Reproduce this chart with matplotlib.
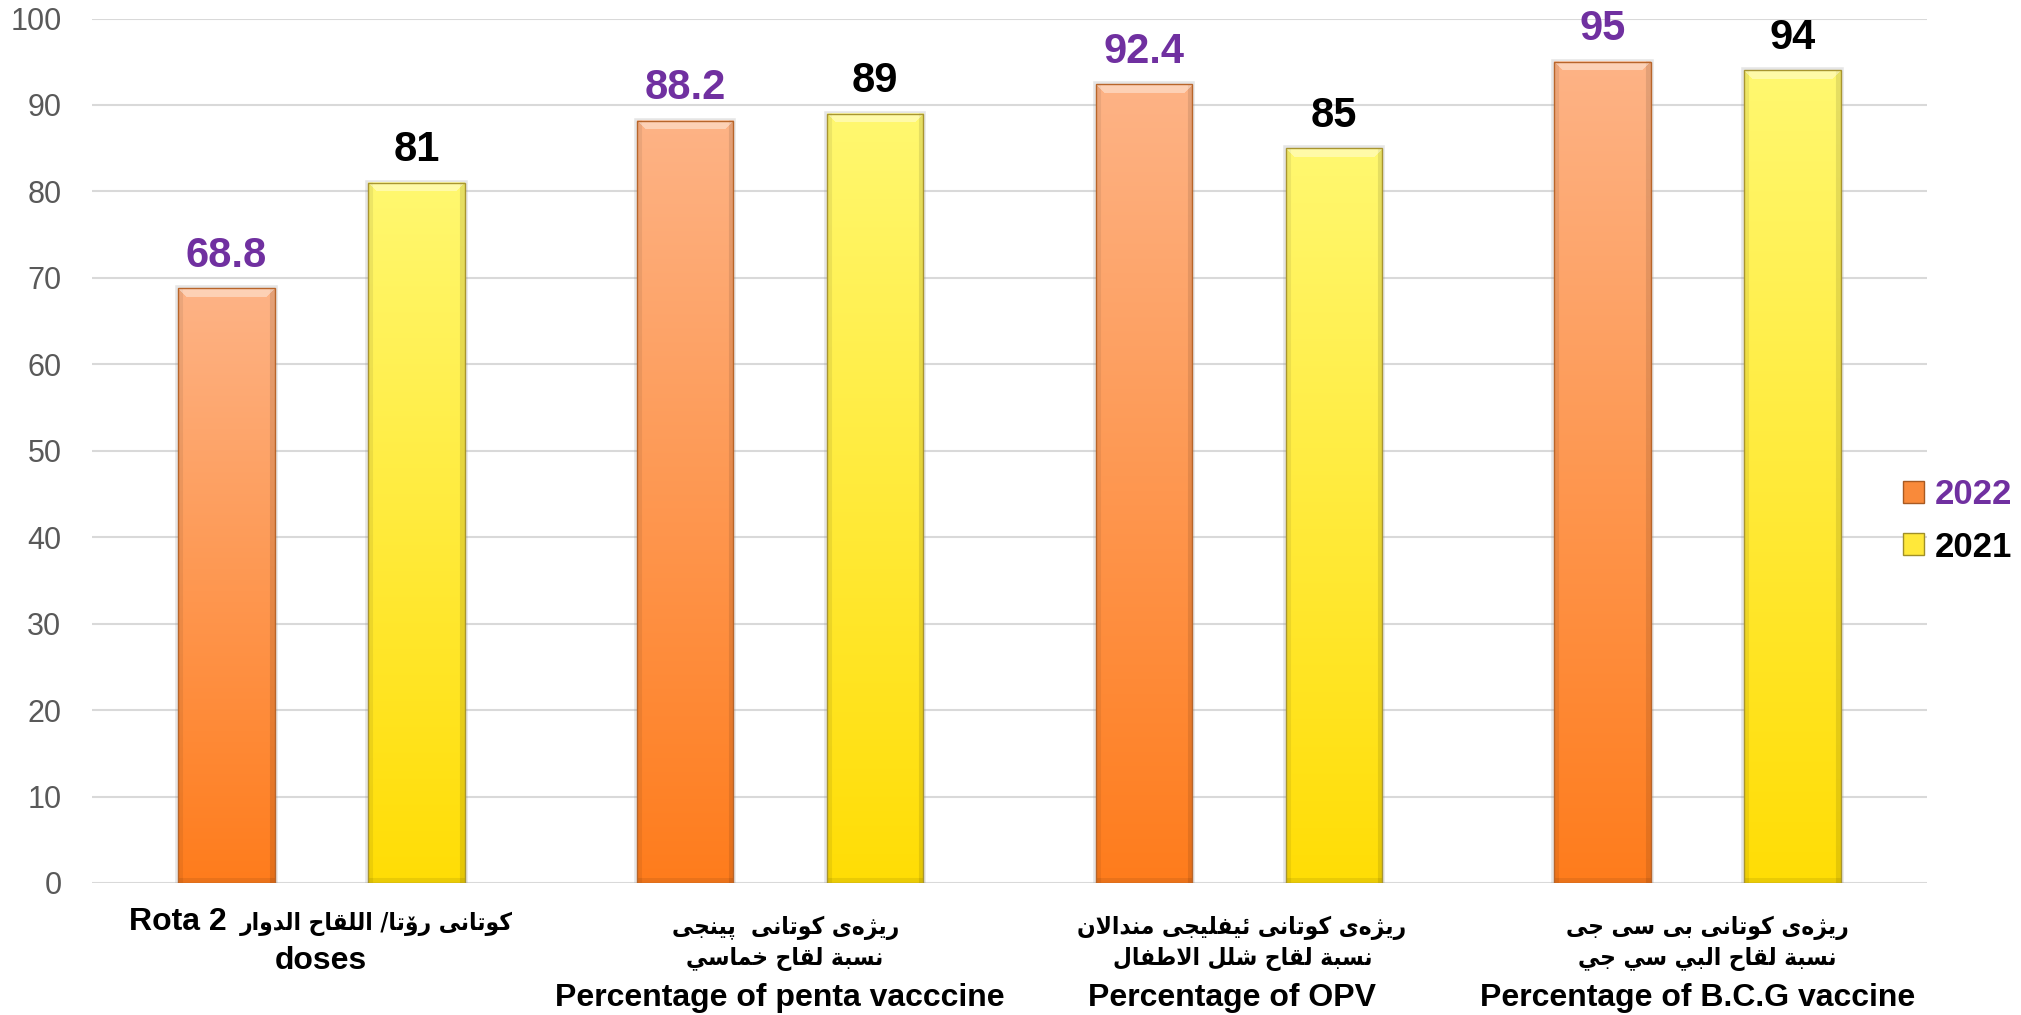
import numpy as np
import matplotlib
matplotlib.use("Agg")
import matplotlib.pyplot as plt
from matplotlib.patches import Patch, Rectangle
from matplotlib.colors import to_rgb

# ---------------- data ----------------
series_names = ["2022", "2021"]
values_2022 = [68.8, 88.2, 92.4, 95]
values_2021 = [81, 89, 85, 94]
yticks = list(range(0, 101, 10))

# category labels (arabic / kurdish lines in logical order, english lines)
cat_lines = [
    [("mix", "كوتانى رۆتا/ اللقاح الدوار", "Rota 2"), ("en", "doses")],
    [("ar", "رێژەى كوتانى  پێنجى"), ("ar", "نسبة لقاح خماسي"), ("en", "Percentage of penta vacccine")],
    [("ar", "رێژەى كوتانى ئيفليجى منداڵان"), ("ar", "نسبة لقاح شلل الاطفال"), ("en", "Percentage of OPV")],
    [("ar", "رێژەى كوتانى بى سى جى"), ("ar", "نسبة لقاح البي سي جي"), ("en", "Percentage of B.C.G vaccine")],
]

# ---------------- minimal Arabic shaping (visual order) ----------------
FORMS = {
    "\u0627": ("\uFE8D", "\uFE8E", None, None),
    "\u0628": ("\uFE8F", "\uFE90", "\uFE91", "\uFE92"),
    "\u0629": ("\uFE93", "\uFE94", None, None),
    "\u062A": ("\uFE95", "\uFE96", "\uFE97", "\uFE98"),
    "\u062C": ("\uFE9D", "\uFE9E", "\uFE9F", "\uFEA0"),
    "\u062D": ("\uFEA1", "\uFEA2", "\uFEA3", "\uFEA4"),
    "\u062E": ("\uFEA5", "\uFEA6", "\uFEA7", "\uFEA8"),
    "\u062F": ("\uFEA9", "\uFEAA", None, None),
    "\u0631": ("\uFEAD", "\uFEAE", None, None),
    "\u0633": ("\uFEB1", "\uFEB2", "\uFEB3", "\uFEB4"),
    "\u0634": ("\uFEB5", "\uFEB6", "\uFEB7", "\uFEB8"),
    "\u0637": ("\uFEC1", "\uFEC2", "\uFEC3", "\uFEC4"),
    "\u0641": ("\uFED1", "\uFED2", "\uFED3", "\uFED4"),
    "\u0642": ("\uFED5", "\uFED6", "\uFED7", "\uFED8"),
    "\u0643": ("\uFED9", "\uFEDA", "\uFEDB", "\uFEDC"),
    "\u0644": ("\uFEDD", "\uFEDE", "\uFEDF", "\uFEE0"),
    "\u0645": ("\uFEE1", "\uFEE2", "\uFEE3", "\uFEE4"),
    "\u0646": ("\uFEE5", "\uFEE6", "\uFEE7", "\uFEE8"),
    "\u0648": ("\uFEED", "\uFEEE", None, None),
    "\u0649": ("\uFEEF", "\uFEF0", None, None),
    "\u064A": ("\uFEF1", "\uFEF2", "\uFEF3", "\uFEF4"),
    "\u0626": ("\uFE89", "\uFE8A", "\uFE8B", "\uFE8C"),
    "\u067E": ("\uFB56", "\uFB57", "\uFB58", "\uFB59"),
    "\u0698": ("\uFB8A", "\uFB8B", None, None),
    "\u06C6": ("\uFBD9", "\uFBDA", None, None),
    "\u06D5": ("\uFEE9", "\uFEEA", None, None),
    "\u06CE": ("\uFEEF", "\uFEF0", "\uFEF3", "\uFEF4"),
    "\u06B5": ("\uFEDD", "\uFEDE", "\uFEDF", "\uFEE0"),
}
LAMS = ("\u0644", "\u06B5")


def joins_left(ch):
    return ch in FORMS and FORMS[ch][2] is not None


def shape_visual(s):
    out = []
    i, n = 0, len(s)
    while i < n:
        ch = s[i]
        if ch not in FORMS:
            out.append(ch)
            i += 1
            continue
        prev_j = i > 0 and joins_left(s[i - 1])
        if ch in LAMS and i + 1 < n and s[i + 1] == "\u0627":
            out.append("\uFEFC" if prev_j else "\uFEFB")
            i += 2
            continue
        next_j = joins_left(ch) and i + 1 < n and s[i + 1] in FORMS
        iso, fin, ini, med = FORMS[ch]
        if prev_j and next_j:
            g = med
        elif prev_j:
            g = fin
        elif next_j:
            g = ini
        else:
            g = iso
        out.append(g)
        i += 1
    return "".join(reversed(out))


# ---------------- figure ----------------
W_PX, H_PX = 2021, 1015
fig = plt.figure(figsize=(W_PX / 100, H_PX / 100), dpi=100)
ax_left, ax_right, ax_top, ax_bottom = 92, 1927, 18.5, 883
ax = fig.add_axes([ax_left / W_PX, 1 - ax_bottom / H_PX,
                   (ax_right - ax_left) / W_PX, (ax_bottom - ax_top) / H_PX])
ax.set_xlim(-0.5, 3.5)
ax.set_ylim(0, 100)
ax.set_yticks(yticks)
ax.yaxis.grid(True, color="#D9D9D9", lw=1.5)
ax.set_axisbelow(True)
for sp in ax.spines.values():
    sp.set_visible(False)
ax.set_xticks([])
ax.tick_params(axis="y", length=0, pad=22, labelsize=22, labelcolor="#595959")
for lbl in ax.get_yticklabels():
    lbl.set_fontfamily("Liberation Sans")

x = np.arange(len(values_2022))
bw, off = 0.21, 0.207

styles = [
    dict(top="#FDB386", bottom="#FF7C1C", edge="#B8652A", label_color="#7030A0"),
    dict(top="#FFF870", bottom="#FFDD05", edge="#A89530", label_color="#000000"),
]


def paint_bar(rect, st):
    x0, y0 = rect.get_xy()
    w, h = rect.get_width(), rect.get_height()
    p0 = ax.transData.transform((x0, y0))
    p1 = ax.transData.transform((x0 + w, y0 + h))
    Wp = max(int(round(p1[0] - p0[0])), 2)
    Hp = max(int(round(p1[1] - p0[1])), 2)
    top, bot = np.array(to_rgb(st["top"])), np.array(to_rgb(st["bottom"]))
    t = np.linspace(0, 1, Hp)[:, None, None]
    img = np.broadcast_to(top * (1 - t) + bot * t, (Hp, Wp, 3)).copy()
    sw = 5
    img[:, :sw] *= 0.93
    img[:, -sw:] *= 0.90
    img[-5:, :] *= 0.92
    bv = 9
    for r in range(min(bv, Hp)):
        c0, c1 = r, Wp - r
        if c1 > c0:
            img[r, c0:c1] = img[r, c0:c1] * 0.6 + 0.4
    img = np.clip(img, 0, 1)
    ax.imshow(img, extent=(x0, x0 + w, y0, y0 + h), aspect="auto",
              interpolation="bilinear", zorder=2.5)
    ax.add_patch(Rectangle((x0, y0), w, h, facecolor="none", edgecolor="#9a9a9a",
                           lw=4, alpha=0.25, zorder=2.2))


for k, (vals, st) in enumerate(zip([values_2022, values_2021], styles)):
    pos = x - off if k == 0 else x + off
    bars = ax.bar(pos, vals, bw, facecolor="none", edgecolor=st["edge"], lw=1.0, zorder=3)
    for rect in bars:
        paint_bar(rect, st)
    for xi, v in zip(pos, vals):
        ax.annotate(f"{v:g}", (xi, v), xytext=(0, 15.5), textcoords="offset points",
                    ha="center", va="baseline", fontsize=30, fontweight="bold",
                    color=st["label_color"], family="Liberation Sans", zorder=5)

ax.set_xlim(-0.5, 3.5)
ax.set_ylim(0, 100)

# category labels
en_kw = dict(fontsize=23, fontweight="bold", color="black", family="Liberation Sans")
ar_kw = dict(fontsize=17.5, fontweight="bold", color="black", family="DejaVu Sans",
             fontstretch="condensed")
# (dx px, baseline px below the axis) per line
line_layout = [
    [(0, 47), (0, 86)],
    [(6, 51), (5, 82), (0, 123)],
    [(3, 51), (4, 82), (-7, 123)],
    [(10, 51), (10, 82), (0, 123)],
]


def put(txt, gi, dx, dy, ha, kw):
    ax.annotate(txt, xy=(x[gi], 0), xycoords=("data", "axes fraction"),
                xytext=(dx, -dy), textcoords="offset pixels",
                ha=ha, va="baseline", annotation_clip=False, **kw)


for gi, lines in enumerate(cat_lines):
    for li, item in enumerate(lines):
        dx, dy = line_layout[gi][li]
        kind = item[0]
        if kind == "ar":
            put(shape_visual(item[1]), gi, dx, dy, "center", ar_kw)
        elif kind == "en":
            put(item[1], gi, dx, dy, "center", en_kw)
        else:  # mixed line: english run on the left, arabic run on the right
            put(item[2], gi, dx - 95, dy, "right", en_kw)
            put(shape_visual(item[1]), gi, dx + 191, dy, "right", ar_kw)

# legend
handles = [Patch(facecolor="#F98A3A", edgecolor="#A85A22", lw=1),
           Patch(facecolor="#FFE83A", edgecolor="#A08F28", lw=1)]
leg = fig.legend(handles, series_names, loc="center left",
                 bbox_to_anchor=(1903 / W_PX, 1 - 521 / H_PX),
                 frameon=False, prop=dict(family="Liberation Sans", weight="bold", size=25),
                 handlelength=0.6, handleheight=0.6, handletextpad=0.3,
                 labelspacing=0.55, borderpad=0, borderaxespad=0)
leg.get_texts()[0].set_color("#7030A0")
leg.get_texts()[1].set_color("#000000")

fig.savefig("out.png", dpi=100)
